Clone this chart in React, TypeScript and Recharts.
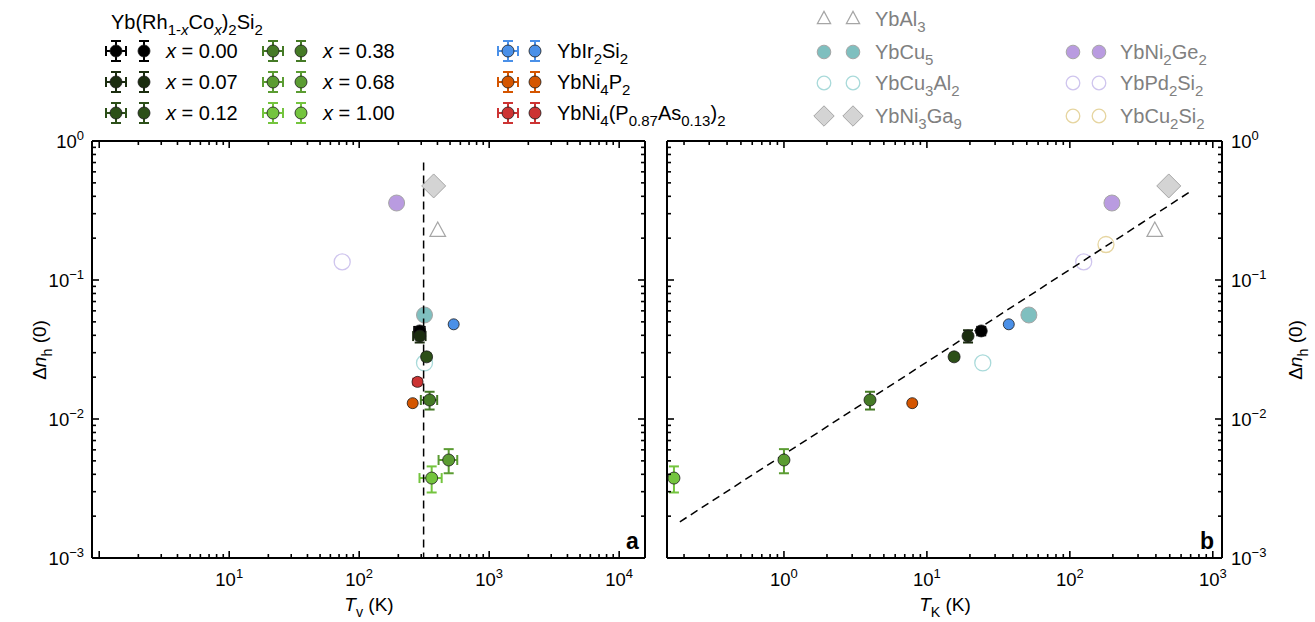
import React from 'react'
import { ScatterChart, Scatter, XAxis, YAxis, ErrorBar } from 'recharts'

const FONT = '"Liberation Sans", Arial, Helvetica, sans-serif'

// Yb(Rh1-xCox)2Si2 samples
const rhcoX = ['0.00', '0.07', '0.12', '0.38', '0.68', '1.00']
const rhcoColors = ['#000000', '#1b2d0f', '#2c4f18', '#457a26', '#5b9c32', '#74c43e']
const rhcoTv = [292, 292, 330, 348, 488, 361]
const rhcoTvErr = [27, 32, 17, 50, 80, 70]
const rhcoTk = [24, 19.4, 15.5, 4.0, 1.0, 0.17]
const rhcoDn = [0.043, 0.0395, 0.028, 0.0137, 0.00507, 0.00376]
const rhcoDnErr = [0.003, 0.004, 0.0015, 0.002, 0.001, 0.0008]

// other measured compounds
type Seg = [string, number?, boolean?]
const otherNames: Seg[][] = [
  [['YbIr'], ['2', 1], ['Si'], ['2', 1]],
  [['YbNi'], ['4', 1], ['P'], ['2', 1]],
  [['YbNi'], ['4', 1], ['(P'], ['0.87', 1], ['As'], ['0.13', 1], [')'], ['2', 1]],
]
const otherColors = ['#4a90e8', '#d45500', '#cc3333']
const otherTv = [533, 258, 281]
const otherTvErr = [20, 15, 22]
const otherTk: (number | null)[] = [37.4, 7.9, null]
const otherDn = [0.048, 0.013, 0.0185]
const otherDnErr = [0.002, 0.0007, 0.0012]

// literature compounds
const refNames: Seg[][] = [
  [['YbAl'], ['3', 1]],
  [['YbCu'], ['5', 1]],
  [['YbCu'], ['3', 1], ['Al'], ['2', 1]],
  [['YbNi'], ['3', 1], ['Ga'], ['9', 1]],
  [['YbNi'], ['2', 1], ['Ge'], ['2', 1]],
  [['YbPd'], ['2', 1], ['Si'], ['2', 1]],
  [['YbCu'], ['2', 1], ['Si'], ['2', 1]],
]
const refShapes = ['tri', 'circle', 'ring', 'diamond', 'circle', 'ring', 'ring']
const refFill = ['none', '#7fbfbf', 'none', '#d4d4d4', '#b99be0', 'none', 'none']
const refStroke = ['#a6a6a6', '#a6a6a6', '#a9dada', '#a6a6a6', '#a6a6a6', '#cfc5ee', '#e6d5a0']
const refTv: (number | null)[] = [402, 318, 318, 374, 194, 74, null]
const refTk = [393, 51.7, 24.6, 492, 197, 125, 179]
const refDn = [0.225, 0.056, 0.0253, 0.475, 0.358, 0.135, 0.18]

// guide lines
const tvLineX = [313, 313]
const tvLineY = [0.7, 0.001]
const fitTk = [0.187, 690]
const fitDn = [0.00182, 0.43]

const decades = (lo: number, hi: number) => {
  const out: number[] = []
  for (let e = lo; e <= hi; e++) for (let m = 1; m < 10; m++) out.push(+(m * 10 ** e).toPrecision(3))
  return out
}
const yTicks = [...decades(-3, -1), 1]
const xTicksA = [...decades(0, 3), 10000]
const xTicksB = [...decades(-1, 2), 1000].filter(v => v >= 0.15)

const isMajor = (v: number) => Math.abs(Math.log10(v) - Math.round(Math.log10(v))) < 1e-6
const expOf = (v: number) => {
  const e = Math.round(Math.log10(v))
  return e < 0 ? '\u2212' + -e : String(e)
}

function makeTick(orient: 'bottom' | 'top' | 'left' | 'right', labels: boolean, minLabel = 0) {
  return (p: any) => {
    const v = p.payload.value
    const maj = isMajor(v)
    const len = maj ? 7 : 4
    const { x, y } = p
    let line
    if (orient === 'bottom') line = <line x1={x} y1={y} x2={x} y2={y - len} />
    else if (orient === 'top') line = <line x1={x} y1={y} x2={x} y2={y + len} />
    else if (orient === 'left') line = <line x1={x} y1={y} x2={x + len} y2={y} />
    else line = <line x1={x} y1={y} x2={x - len} y2={y} />
    let lab = null
    if (labels && maj && v >= minLabel) {
      const e = expOf(v)
      const sup = <tspan dy={-8} fontSize={13}>{e}</tspan>
      if (orient === 'bottom')
        lab = <text x={x} y={y + 28} textAnchor="middle">10{sup}</text>
      else if (orient === 'left')
        lab = <text x={x - 8} y={y + 7} textAnchor="end">10{sup}</text>
      else
        lab = <text x={x + 9} y={y + 7} textAnchor="start">10{sup}</text>
    }
    return (
      <g>
        <g stroke="#000" strokeWidth={1.6}>{line}</g>
        {lab && <g fill="#000" fontSize={18.5} fontFamily={FONT}>{lab}</g>}
      </g>
    )
  }
}

function Rich({ x, y, segs, size, fill = '#000', anchor = 'start', weight }: any) {
  let cur = 0
  return (
    <text x={x} y={y} fontSize={size} fill={fill} textAnchor={anchor} fontFamily={FONT} fontWeight={weight}>
      {segs.map(([t, s = 0, it]: Seg, i: number) => {
        const target = s === 1 ? size * 0.3 : s === -1 ? -size * 0.4 : 0
        const dy = target - cur
        cur = target
        return (
          <tspan key={i} dy={dy} fontSize={s ? size * 0.75 : size} fontStyle={it ? 'italic' : undefined}>{t}</tspan>
        )
      })}
    </text>
  )
}

function refMark(kind: string, fill: string, stroke: string, cx: number, cy: number, big = 1) {
  if (kind === 'tri') {
    const s = 9 * big
    return <polygon points={`${cx},${cy - s} ${cx + s * 0.87},${cy + s * 0.6} ${cx - s * 0.87},${cy + s * 0.6}`} fill="none" stroke={stroke} strokeWidth={1.2} />
  }
  if (kind === 'diamond') {
    const s = 12 * big
    return <polygon points={`${cx},${cy - s} ${cx + s},${cy} ${cx},${cy + s} ${cx - s},${cy}`} fill={fill} stroke={stroke} strokeWidth={1} />
  }
  return <circle cx={cx} cy={cy} r={8 * big} fill={fill} stroke={stroke} strokeWidth={kind === 'ring' ? 1.3 : 1} />
}

const dot = (r: number, fill: string) => (p: any) =>
  <circle cx={p.cx} cy={p.cy} r={r} fill={fill} stroke="#1a1a1a" strokeWidth={0.8} />
const noShape = () => <g />

const yAxes = (leftLabels: boolean, rightLabels: boolean, lw: number, rw: number) => [
  <YAxis key="yl" yAxisId="l" dataKey="y" type="number" scale="log" domain={[0.001, 1]} allowDataOverflow
    ticks={yTicks} interval={0} width={lw} tickSize={0} tickMargin={0} tick={makeTick('left', leftLabels)}
    axisLine={{ stroke: '#000', strokeWidth: 2 }} tickLine={false} />,
  <YAxis key="yr" yAxisId="r" orientation="right" dataKey="y" type="number" scale="log" domain={[0.001, 1]} allowDataOverflow
    ticks={yTicks} interval={0} width={rw} tickSize={0} tickMargin={0} tick={makeTick('right', rightLabels)}
    axisLine={{ stroke: '#000', strokeWidth: 2 }} tickLine={false} />,
]

function PanelA() {
  return (
    <ScatterChart width={660} height={622} margin={{ top: 131, right: 10, bottom: 0, left: 0 }}>
      <XAxis xAxisId="b" dataKey="x" type="number" scale="log" domain={[0.88, 15800]} allowDataOverflow
        ticks={xTicksA} interval={0} height={64} tickSize={0} tickMargin={0} tick={makeTick('bottom', true, 10)}
        axisLine={{ stroke: '#000', strokeWidth: 2 }} tickLine={false} />
      <XAxis xAxisId="t" orientation="top" dataKey="x" type="number" scale="log" domain={[0.88, 15800]} allowDataOverflow
        ticks={xTicksA} interval={0} height={10} tickSize={0} tickMargin={0} tick={makeTick('top', false)}
        axisLine={{ stroke: '#000', strokeWidth: 2 }} tickLine={false} />
      {yAxes(true, false, 92, 5)}
      {refNames.map((_, i) =>
        refTv[i] == null ? null : (
          <Scatter key={'r' + i} xAxisId="b" yAxisId="l" isAnimationActive={false}
            data={[{ x: refTv[i], y: refDn[i] }]}
            shape={(p: any) => refMark(refShapes[i], refFill[i], refStroke[i], p.cx, p.cy)} />
        ))}
      <Scatter xAxisId="b" yAxisId="l" isAnimationActive={false}
        data={tvLineX.map((x, i) => ({ x, y: tvLineY[i] }))}
        line={{ stroke: '#000', strokeWidth: 1.5, strokeDasharray: '8 5' }} shape={noShape} />
      {otherNames.map((_, i) => (
        <Scatter key={'o' + i} xAxisId="b" yAxisId="l" isAnimationActive={false}
          data={[{ x: otherTv[i], y: otherDn[i], ex: otherTvErr[i], ey: otherDnErr[i] }]} shape={dot(5.5, otherColors[i])}>
          <ErrorBar dataKey="ex" direction="x" width={4} stroke={otherColors[i]} strokeWidth={1.5} />
          <ErrorBar dataKey="ey" direction="y" width={4} stroke={otherColors[i]} strokeWidth={1.5} />
        </Scatter>
      ))}
      {rhcoX.map((_, i) => (
        <Scatter key={'c' + i} xAxisId="b" yAxisId="l" isAnimationActive={false}
          data={[{ x: rhcoTv[i], y: rhcoDn[i], ex: rhcoTvErr[i], ey: rhcoDnErr[i] }]} shape={dot(6, rhcoColors[i])}>
          <ErrorBar dataKey="ex" direction="x" width={5} stroke={rhcoColors[i]} strokeWidth={2} />
          <ErrorBar dataKey="ey" direction="y" width={5} stroke={rhcoColors[i]} strokeWidth={2} />
        </Scatter>
      ))}
    </ScatterChart>
  )
}

function PanelB() {
  return (
    <ScatterChart width={665} height={622} margin={{ top: 131, right: 0, bottom: 0, left: 7 }}>
      <XAxis xAxisId="b" dataKey="x" type="number" scale="log" domain={[0.152, 1160]} allowDataOverflow
        ticks={xTicksB} interval={0} height={64} tickSize={0} tickMargin={0} tick={makeTick('bottom', true)}
        axisLine={{ stroke: '#000', strokeWidth: 2 }} tickLine={false} />
      <XAxis xAxisId="t" orientation="top" dataKey="x" type="number" scale="log" domain={[0.152, 1160]} allowDataOverflow
        ticks={xTicksB} interval={0} height={10} tickSize={0} tickMargin={0} tick={makeTick('top', false)}
        axisLine={{ stroke: '#000', strokeWidth: 2 }} tickLine={false} />
      {yAxes(false, true, 10, 93)}
      {refNames.map((_, i) => (
        <Scatter key={'r' + i} xAxisId="b" yAxisId="l" isAnimationActive={false}
          data={[{ x: refTk[i], y: refDn[i] }]}
          shape={(p: any) => refMark(refShapes[i], refFill[i], refStroke[i], p.cx, p.cy)} />
      ))}
      <Scatter xAxisId="b" yAxisId="l" isAnimationActive={false}
        data={fitTk.map((x, i) => ({ x, y: fitDn[i] }))}
        line={{ stroke: '#000', strokeWidth: 1.5, strokeDasharray: '8 5' }} shape={noShape} />
      {otherNames.map((_, i) =>
        otherTk[i] == null ? null : (
          <Scatter key={'o' + i} xAxisId="b" yAxisId="l" isAnimationActive={false}
            data={[{ x: otherTk[i], y: otherDn[i], ey: otherDnErr[i] }]} shape={dot(5.5, otherColors[i])}>
            <ErrorBar dataKey="ey" direction="y" width={4} stroke={otherColors[i]} strokeWidth={1.5} />
          </Scatter>
        ))}
      {rhcoX.map((_, i) => (
        <Scatter key={'c' + i} xAxisId="b" yAxisId="l" isAnimationActive={false}
          data={[{ x: rhcoTk[i], y: rhcoDn[i], ey: rhcoDnErr[i] }]} shape={dot(6, rhcoColors[i])}>
          <ErrorBar dataKey="ey" direction="y" width={5} stroke={rhcoColors[i]} strokeWidth={2} />
        </Scatter>
      ))}
    </ScatterChart>
  )
}

function ErrMark({ cx, cy, color, xerr }: any) {
  return (
    <g stroke={color} strokeWidth={2}>
      <line x1={cx} y1={cy - 10} x2={cx} y2={cy + 10} />
      <line x1={cx - 5} y1={cy - 10} x2={cx + 5} y2={cy - 10} />
      <line x1={cx - 5} y1={cy + 10} x2={cx + 5} y2={cy + 10} />
      {xerr && (
        <>
          <line x1={cx - 10} y1={cy} x2={cx + 10} y2={cy} />
          <line x1={cx - 10} y1={cy - 5} x2={cx - 10} y2={cy + 5} />
          <line x1={cx + 10} y1={cy - 5} x2={cx + 10} y2={cy + 5} />
        </>
      )}
      <circle cx={cx} cy={cy} r={6} fill={color} stroke="#1a1a1a" strokeWidth={0.8} />
    </g>
  )
}

function Overlay() {
  const rows = [51, 82, 113]
  const refPos = [
    [824, 853, 875, 19], [824, 853, 875, 52], [824, 853, 875, 83], [824, 853, 875, 116],
    [1073, 1099, 1120, 52], [1073, 1099, 1120, 83], [1073, 1099, 1120, 116],
  ]
  return (
    <svg width={1315} height={622} style={{ position: 'absolute', left: 0, top: 0, pointerEvents: 'none' }}>
      <Rich x={111} y={29} size={20} segs={[['Yb(Rh'], ['1-', 1], ['x', 1, true], ['Co'], ['x', 1, true], [')'], ['2', 1], ['Si'], ['2', 1]]} />
      {rhcoX.map((lab, i) => {
        const col = i < 3 ? 0 : 1
        const cy = rows[i % 3]
        const bx = col === 0 ? 116 : 273
        return (
          <g key={i}>
            <ErrMark cx={bx} cy={cy} color={rhcoColors[i]} xerr />
            <ErrMark cx={bx + 28} cy={cy} color={rhcoColors[i]} />
            <Rich x={bx + 50} y={cy + 7} size={20} segs={[['x', 0, true], [' = ' + lab]]} />
          </g>
        )
      })}
      {otherNames.map((n, i) => (
        <g key={i}>
          <ErrMark cx={508} cy={rows[i]} color={otherColors[i]} xerr />
          <ErrMark cx={535} cy={rows[i]} color={otherColors[i]} />
          <Rich x={557} y={rows[i] + 7} size={20} segs={n} />
        </g>
      ))}
      {refNames.map((n, i) => (
        <g key={i}>
          {refMark(refShapes[i], refFill[i], refStroke[i], refPos[i][0], refPos[i][3], 0.85)}
          {refMark(refShapes[i], refFill[i], refStroke[i], refPos[i][1], refPos[i][3], 0.85)}
          <Rich x={refPos[i][2]} y={refPos[i][3] + 7} size={20} fill="#808080" segs={n} />
        </g>
      ))}
      <Rich x={369} y={611} size={19} anchor="middle" segs={[['T', 0, true], ['v', 1], [' (K)']]} />
      <Rich x={945} y={611} size={19} anchor="middle" segs={[['T', 0, true], ['K', 1], [' (K)']]} />
      <g transform="rotate(-90 46 350)">
        <Rich x={46} y={350} size={19} anchor="middle" segs={[['\u0394'], ['n', 0, true], ['h', 1], [' (0)']]} />
      </g>
      <g transform="rotate(-90 1302 350)">
        <Rich x={1302} y={350} size={19} anchor="middle" segs={[['\u0394'], ['n', 0, true], ['h', 1], [' (0)']]} />
      </g>
      <text x={626} y={549} fontSize={23} fontWeight="bold" fontFamily={FONT}>a</text>
      <text x={1200} y={549} fontSize={23} fontWeight="bold" fontFamily={FONT}>b</text>
    </svg>
  )
}

export default function App() {
  return (
    <div style={{ position: 'absolute', left: 0, top: 0, width: 1315, height: 622, background: '#fff', fontFamily: FONT }}>
      <div style={{ position: 'absolute', left: 0, top: 0 }}><PanelA /></div>
      <div style={{ position: 'absolute', left: 650, top: 0 }}><PanelB /></div>
      <Overlay />
    </div>
  )
}
